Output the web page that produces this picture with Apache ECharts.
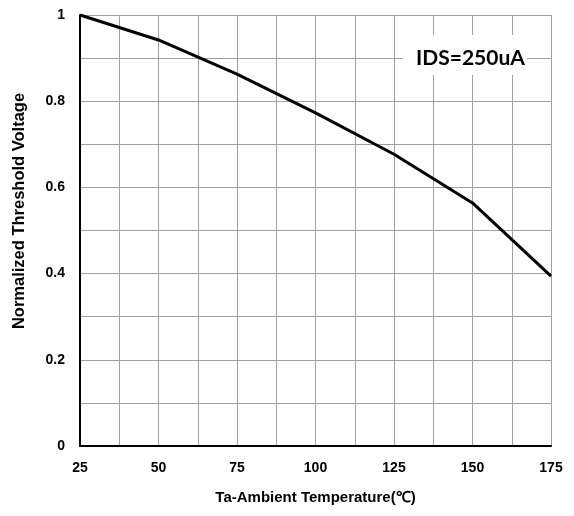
<!DOCTYPE html>
<html>
<head>
<meta charset="utf-8">
<script src="https://cdn.jsdelivr.net/npm/echarts@6/dist/echarts.min.js"></script>
<style>
html,body{margin:0;padding:0;background:#fff;}
#chart{width:574px;height:516px;}
</style>
</head>
<body>
<div id="chart"></div>
<script>
var temps = [25, 50, 75, 100, 125, 150, 175];
var vthNorm = [1, 0.942, 0.863, 0.773, 0.677, 0.564, 0.394];
var labelFont = '"Liberation Sans Narrow", "Arial Narrow", "Liberation Sans", Arial, sans-serif';

var dom = document.getElementById("chart");
var myChart = echarts.init(dom);

var lineData = [];
for (var i = 0; i < temps.length; i++) {
    lineData.push([temps[i], vthNorm[i]]);
}

var option = {
    animation: false,
    backgroundColor: '#fff',
    grid: {
        left: 80,
        top: 15,
        right: 23,
        bottom: 70
    },
    xAxis: {
        type: 'value',
        min: 25,
        max: 175,
        interval: 12.5,
        name: 'Ta-Ambient Temperature(℃)',
        nameLocation: 'middle',
        nameGap: 44,
        nameTextStyle: {
            color: '#000',
            fontWeight: 'bold',
            fontSize: 15,
            fontFamily: labelFont
        },
        axisLine: { lineStyle: { color: '#000', width: 2 } },
        axisTick: { show: false },
        splitLine: { show: true, lineStyle: { color: '#a0a0a0', width: 1 } },
        axisLabel: {
            color: '#000',
            fontWeight: 'bold',
            fontSize: 14,
            fontFamily: labelFont,
            margin: 15,
            formatter: function (v) {
                return (v % 25 === 0) ? String(v) : '';
            }
        }
    },
    yAxis: {
        type: 'value',
        min: 0,
        max: 1,
        interval: 0.1,
        axisLine: { show: true, lineStyle: { color: '#000', width: 2 } },
        axisTick: { show: false },
        splitLine: { show: true, lineStyle: { color: '#a0a0a0', width: 1 } },
        axisLabel: {
            color: '#000',
            fontWeight: 'bold',
            fontSize: 14,
            fontFamily: labelFont,
            margin: 15,
            formatter: function (v) {
                var k = Math.round(v * 10);
                if (k % 2 !== 0) return '';
                return String(k / 10);
            }
        }
    },
    graphic: [
        {
            // y axis title, sits a bit above the plot middle like the original
            type: 'text',
            x: 19,
            y: 211,
            rotation: Math.PI / 2,
            style: {
                text: 'Normalized Threshold Voltage',
                fill: '#000',
                font: 'bold 16.5px ' + labelFont,
                align: 'center',
                verticalAlign: 'middle'
            }
        },
        {
            type: 'rect',
            left: 403,
            top: 35,
            shape: { width: 124, height: 40 },
            style: { fill: '#fff' },
            z: 100
        },
        {
            type: 'text',
            left: 416,
            top: 48,
            style: {
                text: 'IDS=250uA',
                fill: '#000',
                font: 'bold 21px Lato, "Open Sans", sans-serif'
            },
            z: 101
        }
    ],
    series: [{
        type: 'line',
        data: lineData,
        showSymbol: false,
        lineStyle: { color: '#000', width: 3 },
        z: 5
    }]
};

myChart.setOption(option, true);
</script>
</body>
</html>
